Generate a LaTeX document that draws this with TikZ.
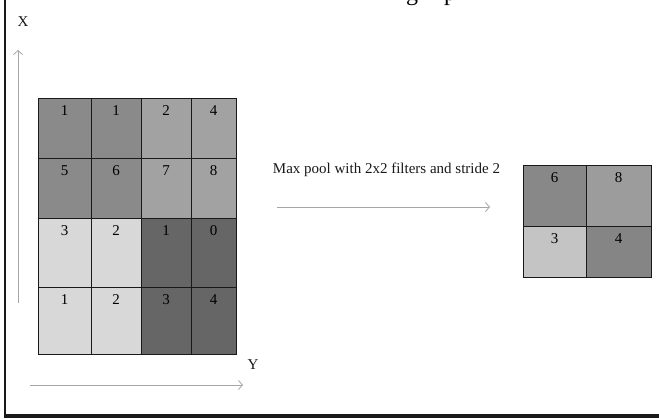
\documentclass[tikz,border=0pt]{standalone}
\usepackage{fontspec}
\setmainfont{Liberation Serif}
\usetikzlibrary{arrows.meta}
\newcommand\gcell[7]{%
  \node[cellbox, fill=#6, minimum width={(#4-#2)*1pt}, minimum height={(#5-#3)*1pt}] (#1) at ({(#2+#4)/2},{(#3+#5)/2}) {};
  \node[num] (#1n) at ([yshift=-8pt]#1.north) {#7};}
\definecolor{gA}{HTML}{8A8A8A}
\definecolor{gB}{HTML}{A2A2A2}
\definecolor{gC}{HTML}{D8D8D8}
\definecolor{gD}{HTML}{666666}
\definecolor{rA}{HTML}{888888}
\definecolor{rB}{HTML}{9C9C9C}
\definecolor{rC}{HTML}{C4C4C4}
\definecolor{rD}{HTML}{858585}
\begin{document}
\begin{tikzpicture}[x=1pt,y=-1pt,
  cellbox/.style={draw=black!90, line width=1pt, inner sep=0pt},
  num/.style={font=\fontsize{15}{15}\selectfont, inner sep=0pt, anchor=north, text=black},
  axisarrow/.style={draw=black!35, line width=0.8pt, -{Straight Barb[length=4pt,width=9pt]}},
  lbl/.style={font=\fontsize{15}{15}\selectfont, inner sep=0pt, text=black!90}]
\useasboundingbox (0,0) rectangle (659,418);
% frame
\draw[black!90, line width=2pt] (5,0) -- (5,416);
\draw[black!90, line width=3.5pt] (4,416) -- (659,416);
% cut caption fragment (only descenders visible)
\node[font=\fontsize{24}{24}\selectfont, anchor=base west, inner sep=0pt] (capg) at (406,0) {g};
\node[font=\fontsize{24}{24}\selectfont, anchor=base west, inner sep=0pt] (capp) at (444,0) {p};
% left grid
\gcell{a11}{38}{98}{91}{158}{gA}{1}
\gcell{a12}{91}{98}{141}{158}{gA}{1}
\gcell{a13}{141}{98}{191}{158}{gB}{2}
\gcell{a14}{191}{98}{236}{158}{gB}{4}
\gcell{a21}{38}{158}{91}{218}{gA}{5}
\gcell{a22}{91}{158}{141}{218}{gA}{6}
\gcell{a23}{141}{158}{191}{218}{gB}{7}
\gcell{a24}{191}{158}{236}{218}{gB}{8}
\gcell{a31}{38}{218}{91}{287}{gC}{3}
\gcell{a32}{91}{218}{141}{287}{gC}{2}
\gcell{a33}{141}{218}{191}{287}{gD}{1}
\gcell{a34}{191}{218}{236}{287}{gD}{0}
\gcell{a41}{38}{287}{91}{354}{gC}{1}
\gcell{a42}{91}{287}{141}{354}{gC}{2}
\gcell{a43}{141}{287}{191}{354}{gD}{3}
\gcell{a44}{191}{287}{236}{354}{gD}{4}
% right grid
\gcell{b11}{523}{165}{586}{226}{rA}{6}
\gcell{b12}{586}{165}{651}{226}{rB}{8}
\gcell{b21}{523}{226}{586}{277}{rC}{3}
\gcell{b22}{586}{226}{651}{277}{rD}{4}
% axes
\coordinate (xs) at (18,303);
\coordinate (xe) at (18,50);
\coordinate (ys) at (30,385);
\coordinate (ye) at (243,385);
\draw[axisarrow] (xs) -- (xe);
\draw[axisarrow] (ys) -- (ye);
\node[lbl] (xl) at (23,22) {X};
\node[lbl] (yl) at (253,365) {Y};
% pooling arrow
\node[lbl] (pool) at (386.5,170) {Max pool with 2x2 filters and stride 2};
\coordinate (ps) at (277,207);
\coordinate (pe) at (490,207);
\draw[axisarrow] (ps) -- (pe);
\end{tikzpicture}
\end{document}
